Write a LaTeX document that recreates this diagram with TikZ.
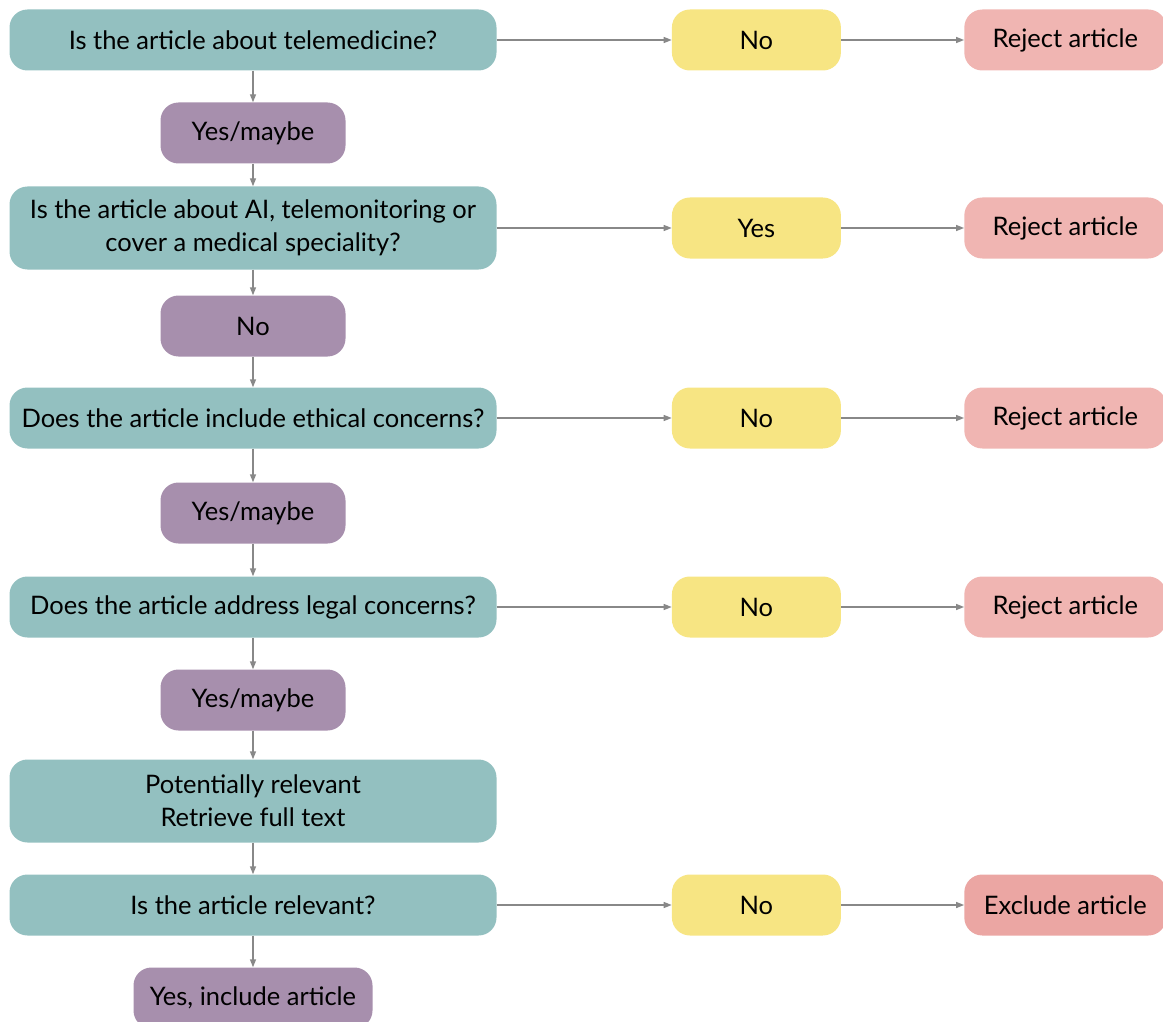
\documentclass[tikz,border=0pt]{standalone}
\usepackage{fontspec}
\setmainfont{Lato}
\usetikzlibrary{positioning,arrows.meta}
\definecolor{qteal}{HTML}{93C0C0}
\definecolor{apurple}{HTML}{A78FAD}
\definecolor{ayellow}{HTML}{F7E583}
\definecolor{rpink}{HTML}{F0B5B2}
\definecolor{xpink}{HTML}{EBA6A3}
\definecolor{lgray}{HTML}{888888}
\tikzset{
  box/.style={rounded corners=18pt, inner sep=0pt, minimum height=61pt, align=center,
    font=\fontsize{25.5}{33}\selectfont},
  question/.style={box, fill=qteal, minimum width=487pt},
  answer/.style={box, fill=apurple, minimum width=185pt},
  reply/.style={box, fill=ayellow, minimum width=169pt},
  reject/.style={box, fill=rpink, minimum width=202pt},
  flow/.style={draw=lgray, line width=1.4pt, -{Triangle[length=8pt,width=6pt]}}
}
\begin{document}
\begin{tikzpicture}[x=1pt, y=-1pt]
        \useasboundingbox (0,0) rectangle (1163,1022);
        \node [question] (Q1) at (253,40) {Is the article about telemedicine?};
        \node [answer] (A1) at (253,133) {Yes/maybe};
        \node [question, minimum height=83pt] (Q2) at (253,228) {Is the article about AI, telemonitoring or\\cover a medical speciality?};
        \node [answer] (A2) at (253,326) {No};
        \node [question] (Q3) at (253,418) {Does the article include ethical concerns?};
        \node [answer] (A3) at (253,513) {Yes/maybe};
        \node [question] (Q4) at (253,607) {Does the article address legal concerns?};
        \node [answer] (A4) at (253,700) {Yes/maybe};
        \node [question, minimum height=83pt] (P) at (253,801) {Potentially relevant\\Retrieve full text};
        \node [question] (Q5) at (253,905) {Is the article relevant?};
        \node [answer, minimum width=239pt] (A5) at (253,998) {Yes, include article};

        \node [reply, right=175pt of Q1] (N1) {No};
        \node [reply, right=175pt of Q2] (N2) {Yes};
        \node [reply, right=175pt of Q3] (N3) {No};
        \node [reply, right=175pt of Q4] (N4) {No};
        \node [reply, right=175pt of Q5] (N5) {No};

        \node [reject, right=123pt of N1] (R1) {Reject article};
        \node [reject, right=123pt of N2] (R2) {Reject article};
        \node [reject, right=123pt of N3] (R3) {Reject article};
        \node [reject, right=123pt of N4] (R4) {Reject article};
        \node [reject, fill=xpink, right=123pt of N5] (R5) {Exclude article};

        \draw[flow] (Q1) -- (A1);
        \draw[flow] (A1) -- (Q2);
        \draw[flow] (Q2) -- (A2);
        \draw[flow] (A2) -- (Q3);
        \draw[flow] (Q3) -- (A3);
        \draw[flow] (A3) -- (Q4);
        \draw[flow] (Q4) -- (A4);
        \draw[flow] (A4) -- (P);
        \draw[flow] (P) -- (Q5);
        \draw[flow] (Q5) -- (A5);

        \foreach \i in {1,...,5} {
            \draw[flow] (Q\i) -- (N\i);
            \draw[flow] (N\i) -- (R\i);
        }
    \end{tikzpicture}
\end{document}
